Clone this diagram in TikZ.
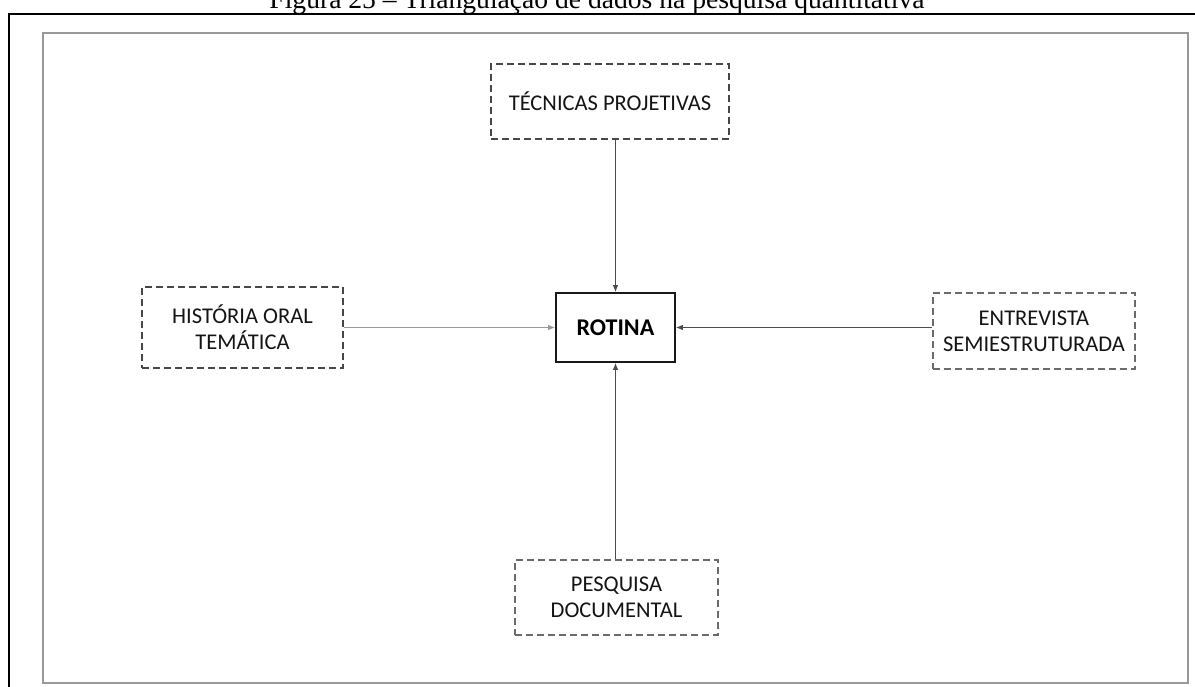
\documentclass[tikz,border=0pt]{standalone}
\usepackage{fontspec}
\setmainfont{Carlito}
\newfontfamily\captionserif{Liberation Serif}
\usetikzlibrary{arrows.meta}

\begin{document}
\begin{tikzpicture}[x=1pt,y=-1pt,
  dashbox/.style={draw=black!72, line width=1.8pt, dash pattern=on 7pt off 4pt,
    inner sep=0pt, align=center, text=black!92,
    font=\fontsize{22.5}{26}\selectfont},
  corebox/.style={draw=black!90, line width=1.8pt, inner sep=0pt, align=center,
    text=black, font=\fontsize{24}{28}\selectfont\bfseries},
  feed/.style={draw=black!70, line width=0.9pt,
    -{Latex[length=7pt,width=5.5pt]}},
]
  \useasboundingbox (0,0) rectangle (1195,687);
  \clip (0,0) rectangle (1195,687);

  % caption (its top runs off the page) and the cell borders around the figure
  \node[anchor=base, font=\captionserif\fontsize{27.6}{32}\selectfont] (caption)
    at (597,9) {Figura 25 – Triangulação de dados na pesquisa quantitativa};
  \draw[line width=2pt, black] (9,690) -- (9,14) -- (1197,14);

  % grey frame of the figure
  \draw[line width=2pt, black!40] (43,33) rectangle (1188,683);

  % boxes
  \node[dashbox, minimum width=238pt, minimum height=75pt] (tec) at (610,101.5)
    {TÉCNICAS PROJETIVAS};
  \node[dashbox, minimum width=201pt, minimum height=81pt] (hist) at (242.5,327.5)
    {HISTÓRIA ORAL\\TEMÁTICA};
  \node[corebox, minimum width=119pt, minimum height=69pt] (rot) at (615.5,327.5)
    {ROTINA};
  \node[dashbox, draw=black!58, minimum width=202pt, minimum height=76pt] (ent) at (1034,331)
    {ENTREVISTA\\SEMIESTRUTURADA};
  \node[dashbox, draw=black!58, minimum width=203pt, minimum height=75pt] (pes) at (616.5,597.5)
    {PESQUISA\\DOCUMENTAL};

  % connectors into the central box
  \draw[feed] (rot.north |- tec.south) -- (rot.north);
  \draw[feed, draw=black!40] (hist.east |- rot.west) -- (rot.west);
  \draw[feed] (ent.west |- rot.east) -- (rot.east);
  \draw[feed] (rot.south |- pes.north) -- (rot.south);
\end{tikzpicture}
\end{document}
